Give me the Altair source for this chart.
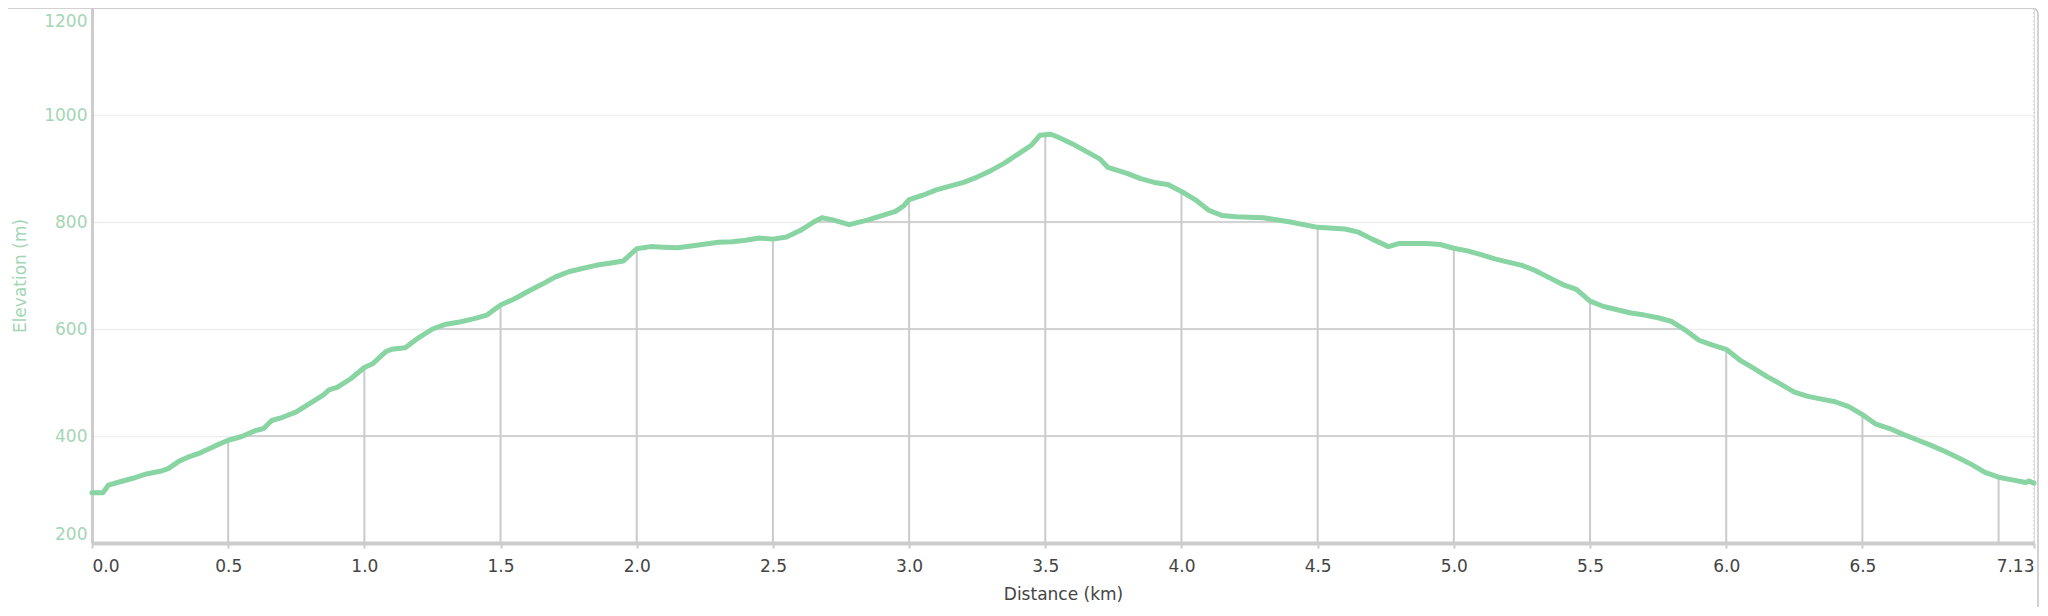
import altair as alt
import numpy as np
import pandas as pd

distance_km = [0.00, 0.04, 0.06, 0.10, 0.15, 0.20, 0.25, 0.28, 0.32, 0.35, 0.40, 0.45, 0.50, 0.55,
               0.60, 0.63, 0.66, 0.70, 0.75, 0.80, 0.85, 0.87, 0.90, 0.95, 1.00, 1.03, 1.08, 1.10,
               1.15, 1.20, 1.25, 1.30, 1.35, 1.40, 1.45, 1.50, 1.55, 1.60, 1.65, 1.70, 1.75, 1.80,
               1.85, 1.90, 1.95, 2.00, 2.05, 2.10, 2.15, 2.20, 2.30, 2.35, 2.40, 2.45, 2.50, 2.55,
               2.60, 2.65, 2.68, 2.72, 2.78, 2.85, 2.90, 2.95, 2.98, 3.00, 3.05, 3.10, 3.15, 3.20,
               3.25, 3.30, 3.35, 3.40, 3.45, 3.48, 3.52, 3.55, 3.60, 3.65, 3.70, 3.73, 3.80, 3.85,
               3.90, 3.95, 4.00, 4.05, 4.10, 4.15, 4.20, 4.30, 4.40, 4.50, 4.60, 4.65, 4.70, 4.76,
               4.80, 4.85, 4.90, 4.95, 5.00, 5.05, 5.10, 5.15, 5.20, 5.25, 5.30, 5.35, 5.40, 5.45,
               5.50, 5.55, 5.60, 5.65, 5.70, 5.75, 5.80, 5.85, 5.90, 5.95, 6.00, 6.05, 6.10, 6.15,
               6.20, 6.25, 6.30, 6.35, 6.40, 6.45, 6.50, 6.55, 6.60, 6.65, 6.70, 6.75, 6.80, 6.85,
               6.90, 6.95, 7.00, 7.05, 7.10, 7.11, 7.13]
elevation_m = [294, 294, 308, 314, 321, 329, 334, 339, 353, 360, 369, 381, 392, 399,
               410, 414, 429, 435, 445, 461, 477, 486, 491, 507, 528, 535, 558, 562,
               565, 584, 600, 609, 613, 619, 626, 645, 656, 670, 683, 697, 707, 713,
               719, 723, 727, 750, 754, 753, 752, 755, 762, 763, 766, 770, 768, 772,
               784, 800, 808, 804, 795, 804, 812, 820, 830, 842, 850, 860, 867, 874,
               884, 896, 910, 927, 944, 962, 964, 958, 946, 932, 918, 902, 891, 881,
               874, 870, 857, 842, 822, 812, 810, 808, 800, 790, 787, 781, 768, 754,
               760, 760, 760, 758, 751, 746, 739, 731, 725, 719, 709, 696, 683, 674,
               652, 642, 636, 630, 626, 621, 614, 598, 579, 570, 562, 542, 527, 511,
               497, 482, 474, 469, 464, 455, 440, 422, 414, 403, 393, 383, 372, 360,
               347, 332, 323, 318, 313, 316, 312]

x_tick_values = [0.0, 0.5, 1.0, 1.5, 2.0, 2.5, 3.0, 3.5, 4.0, 4.5, 5.0, 5.5, 6.0, 6.5, 7.13]
drop_line_km = [0.5, 1.0, 1.5, 2.0, 2.5, 3.0, 3.5, 4.0, 4.5, 5.0, 5.5, 6.0, 6.5, 7.0]
y_tick_values = [200, 400, 600, 800, 1000, 1200]
under_grid_levels = [400, 600, 800]

X_MIN, X_MAX = 0.0, 7.13
Y_MIN, Y_MAX = 200, 1200
W, H = 1942, 535

profile = pd.DataFrame({"d": distance_km, "e": elevation_m})

drops = pd.DataFrame({
    "d": drop_line_km,
    "top": np.interp(drop_line_km, distance_km, elevation_m),
    "base": [Y_MIN] * len(drop_line_km),
})


def above_intervals(xs, ys, level):
    segs, start = [], None
    for i in range(len(xs)):
        if ys[i] > level and start is None:
            if i == 0:
                start = xs[0]
            else:
                start = xs[i - 1] + (level - ys[i - 1]) * (xs[i] - xs[i - 1]) / (ys[i] - ys[i - 1])
        elif ys[i] <= level and start is not None:
            end = xs[i - 1] + (level - ys[i - 1]) * (xs[i] - xs[i - 1]) / (ys[i] - ys[i - 1])
            segs.append((start, end))
            start = None
    if start is not None:
        segs.append((start, xs[-1]))
    return segs


rows = []
for lv in under_grid_levels:
    for a, b in above_intervals(distance_km, elevation_m, lv):
        rows.append({"x1": a, "x2": b, "y": lv})
under_grid = pd.DataFrame(rows)

FONT = "DejaVu Sans"
GREEN_TXT = "#a3d6b4"
GRAY_LINE = "#cccccc"

xscale = alt.Scale(domain=[X_MIN, X_MAX], nice=False, zero=False)
yscale = alt.Scale(domain=[Y_MIN, Y_MAX], nice=False, zero=False)

base = alt.Chart(profile).mark_line(
    color="#88d4a2", strokeWidth=5, strokeJoin="round", strokeCap="round"
).encode(
    x=alt.X("d:Q", scale=xscale, title="Distance (km)",
            axis=alt.Axis(values=x_tick_values, labelFlush=True,
                          labelExpr="datum.value == 7.13 ? '7.13' : format(datum.value, '.1f')",
                          grid=False, domainColor=GRAY_LINE, domainWidth=4,
                          tickColor=GRAY_LINE, tickWidth=2, tickSize=5,
                          labelColor="#444444", labelFontSize=17, labelFont=FONT,
                          labelPadding=10, titleColor="#444444", titleFontSize=17,
                          titleFont=FONT, titleFontWeight="normal", titlePadding=12)),
    y=alt.Y("e:Q", scale=yscale, title="Elevation (m)",
            axis=alt.Axis(values=y_tick_values, labelFlush=True,
                          labelOffset={"condition": {"test": "datum.value == 1200", "value": 5},
                                       "value": 0},
                          grid=True, format="d",
                          gridColor="#eeeeee", gridWidth=1.5,
                          domainColor=GRAY_LINE, domainWidth=3, ticks=False,
                          labelColor=GREEN_TXT, labelFontSize=17, labelFont=FONT,
                          labelPadding=5, titleColor=GREEN_TXT, titleFontSize=17,
                          titleFont=FONT, titleFontWeight="normal", titleX=-63)),
)

under = alt.Chart(under_grid).mark_rule(color="#d2d2d2", strokeWidth=2).encode(
    x=alt.X("x1:Q", scale=xscale), x2="x2:Q", y=alt.Y("y:Q", scale=yscale)
)

drop = alt.Chart(drops).mark_rule(color="#cbcbcb", strokeWidth=2).encode(
    x=alt.X("d:Q", scale=xscale), y=alt.Y("base:Q", scale=yscale), y2="top:Q"
)

end_line = alt.Chart(pd.DataFrame({"d": [X_MAX]})).mark_rule(
    color="#d8d8d8", strokeWidth=1.5, strokeDash=[2, 2]
).encode(x=alt.X("d:Q", scale=xscale))

frame = alt.Chart(pd.DataFrame({"k": [0]})).mark_rect(
    fill=None, stroke="#c4c4c8", strokeWidth=1.5, cornerRadius=6
).encode(x=alt.value(-120), x2=alt.value(W + 4), y=alt.value(0), y2=alt.value(H + 120))

chart = alt.layer(frame, under, drop, end_line, base).properties(
    width=W, height=H,
    autosize=alt.AutoSizeParams(type="none"),
    padding={"left": 84, "top": 0, "right": 5, "bottom": 64},
).configure_view(stroke=None).configure(background="white")

chart.save("out.html", embed_options={"renderer": "svg", "actions": False})
